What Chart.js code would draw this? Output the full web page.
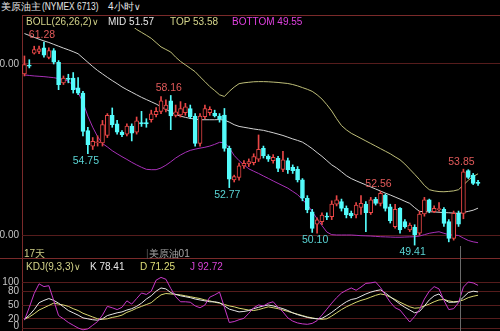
<!DOCTYPE html>
<html><head><meta charset="utf-8">
<script src="https://cdn.jsdelivr.net/npm/chart.js@4/dist/chart.umd.min.js"></script>
<style>
html,body{margin:0;padding:0;background:#000;}
body{width:500px;height:331px;overflow:hidden;position:relative;font-family:"Liberation Sans",Arial,sans-serif;font-size:10px;}
.t{position:absolute;white-space:nowrap;line-height:12px;}
canvas{position:absolute;left:0;}
#c1{top:15px;}
#c2{top:259px;}
.cur{position:absolute;left:460px;top:246px;width:1px;height:85px;background:#6a6a6a;}
.nar{display:inline-block;transform:scaleX(0.84);transform-origin:0 50%;}
</style></head>
<body>
<canvas id="c1" width="500" height="244"></canvas>
<canvas id="c2" width="500" height="72"></canvas>
<div class="cur"></div>
<div class="t" style="left:1px;top:1px;color:#e6e6e6;">美原油主</div>
<div class="t" style="left:42px;top:1px;color:#e6e6e6;"><span class="nar">(NYMEX 6713)</span></div>
<div class="t" style="left:108px;top:1px;color:#e6e6e6;">4小时<span style="font-size:9px;">∨</span></div>
<div class="t" style="left:26px;top:16px;color:#d4d48a;">BOLL(26,26,2)<span style="font-size:9px;">∨</span></div>
<div class="t" style="left:108px;top:16px;color:#e8e8e8;">MID 51.57</div>
<div class="t" style="left:170px;top:16px;color:#d4d48a;">TOP 53.58</div>
<div class="t" style="left:232px;top:16px;color:#e040e0;">BOTTOM 49.55</div>
<div class="t" style="left:24px;top:248px;color:#d4d48a;">17天</div>
<div class="t" style="left:146px;top:248px;color:#a8a8a8;"><span style="color:#555;">|</span>美原油01</div>
<div class="t" style="left:26px;top:261px;color:#d4d48a;">KDJ(9,3,3)<span style="font-size:9px;">∨</span></div>
<div class="t" style="left:90px;top:261px;color:#e8e8e8;">K 78.41</div>
<div class="t" style="left:140px;top:261px;color:#dede78;">D 71.25</div>
<div class="t" style="left:190px;top:261px;color:#d844d8;">J 92.72</div>
<script>
// ---- data ----
const open  = [59.42,59.92,60.64,60.74,60.94,60.39,60.78,60.10,58.89,59.16,59.18,58.60,58.30,56.10,55.19,55.40,55.38,55.83,57.00,56.50,
               56.02,55.90,56.37,56.02,56.57,56.57,56.74,57.04,57.23,57.35,57.84,57.00,57.02,57.15,57.40,56.96,55.36,56.92,57.15,57.12,
               56.96,57.02,55.07,53.22,53.37,54.04,54.15,54.23,54.43,55.07,54.62,54.35,54.48,53.84,54.35,53.96,53.84,53.22,52.15,51.36,
               50.64,50.78,51.10,51.07,51.81,51.95,51.56,51.26,51.17,51.62,51.81,51.30,52.09,51.85,52.34,51.65,50.49,51.56,50.78,50.29,
               50.45,50.10,51.23,52.05,51.36,51.50,51.50,50.78,49.80,51.26,51.26,53.76,53.51,53.06];
const high  = [60.47,60.25,61.04,61.05,61.28,60.95,60.90,60.20,59.30,59.40,59.50,59.20,58.40,56.30,55.70,55.80,56.70,57.10,57.43,56.70,
               56.10,56.50,56.50,56.90,57.23,56.80,57.30,57.45,58.10,57.90,58.16,57.60,57.80,57.70,57.60,57.10,57.10,57.60,57.50,57.30,
               57.10,57.40,55.20,53.50,54.20,54.35,54.45,54.75,55.85,55.20,54.70,54.70,54.60,54.90,54.50,54.10,54.00,53.30,52.30,51.50,
               51.00,51.30,51.30,52.00,52.30,52.10,51.70,51.40,51.90,52.30,51.95,52.20,52.20,52.56,52.40,51.80,51.80,51.60,50.90,50.70,
               50.60,51.40,52.20,52.10,51.70,51.90,51.60,50.90,51.40,51.40,53.85,53.82,53.60,53.20];
const low   = [59.30,59.77,60.58,60.60,60.40,60.30,60.00,58.50,58.80,58.90,58.30,58.20,55.80,54.75,55.00,55.20,55.20,55.70,56.30,55.90,
               55.75,55.80,55.50,55.90,56.35,56.30,56.60,56.90,57.10,57.20,56.16,56.90,56.90,57.00,56.80,55.20,55.20,56.80,57.00,56.90,
               56.60,54.90,52.77,53.10,53.20,53.90,54.00,54.10,54.30,54.50,54.30,54.20,53.70,53.70,53.60,53.60,53.10,52.00,51.30,50.15,
               50.10,50.60,50.90,50.90,51.70,51.40,51.00,51.00,51.00,51.20,50.19,51.20,51.75,51.70,51.40,50.70,50.40,50.10,50.40,50.20,
               49.41,50.00,51.10,51.30,51.30,51.40,50.50,49.60,49.70,50.50,50.95,53.30,52.95,52.90];
const close = [59.96,59.88,60.84,60.89,60.51,60.78,60.10,58.79,59.18,59.10,58.50,58.30,56.06,55.28,55.48,55.45,56.45,57.00,56.45,56.02,
               55.87,56.37,55.96,56.67,56.50,56.50,57.08,57.23,57.85,57.60,56.96,57.20,57.40,57.50,56.90,55.36,56.96,57.40,57.35,56.96,
               56.77,55.07,53.26,53.41,54.04,54.19,54.29,54.58,55.01,54.62,54.43,54.54,53.90,54.39,53.80,53.76,53.22,52.15,51.46,50.39,
               50.88,51.17,51.05,51.81,52.05,51.56,51.17,51.11,51.75,51.85,51.30,52.05,51.85,52.44,51.56,50.84,51.50,50.29,50.49,50.58,
               50.00,51.23,52.05,51.42,51.56,51.52,50.68,49.80,51.26,50.64,53.70,53.37,53.02,53.04];
const bollMid = [61.78,61.67,61.56,61.45,61.35,61.26,61.15,61.04,60.93,60.83,60.72,60.60,60.35,60.10,59.85,59.62,59.42,59.22,59.03,58.85,
               58.66,58.50,58.35,58.20,58.05,57.92,57.79,57.66,57.50,57.35,57.20,57.05,56.95,56.88,56.82,56.77,56.74,56.74,56.74,56.74,
               56.75,56.72,56.60,56.45,56.35,56.30,56.25,56.20,56.16,56.12,56.05,55.98,55.90,55.82,55.72,55.62,55.53,55.43,55.25,55.05,
               54.82,54.60,54.35,54.10,53.92,53.70,53.47,53.30,53.17,53.05,52.93,52.81,52.69,52.57,52.45,52.34,52.22,52.10,51.97,51.85,
               51.60,51.38,51.36,51.36,51.35,51.33,51.31,51.30,51.28,51.27,51.32,51.38,51.45,51.57];
const bollTop = [64.20,64.12,64.04,63.96,63.88,63.80,63.72,63.64,63.56,63.48,63.40,63.32,63.24,63.16,63.08,63.00,62.90,62.80,62.70,62.60,
               62.50,62.40,62.25,62.02,61.85,61.68,61.50,61.25,61.00,60.85,60.70,60.40,60.15,59.95,59.75,59.55,59.25,58.97,58.68,58.45,
               58.20,58.10,58.40,58.65,58.85,58.90,58.93,58.96,58.97,58.97,58.96,58.94,58.92,58.89,58.86,58.80,58.72,58.62,58.52,58.40,
               58.20,57.95,57.62,57.25,56.80,56.40,56.15,55.95,55.80,55.65,55.50,55.35,55.20,55.05,54.90,54.75,54.57,54.40,54.15,53.85,
               53.55,53.24,52.90,52.65,52.58,52.54,52.53,52.55,52.58,52.65,52.92,53.20,53.42,53.58];
const bollBot = [59.36,59.33,59.30,59.28,59.26,59.23,59.20,59.15,59.08,59.00,58.75,58.35,57.75,56.95,56.30,55.75,55.35,55.15,54.93,54.75,
               54.58,54.42,54.25,54.10,53.96,53.84,53.82,53.82,53.92,54.08,54.28,54.50,54.68,54.83,54.95,55.02,55.08,55.13,55.20,55.30,
               55.42,55.40,55.10,54.65,54.35,54.10,53.87,53.73,53.60,53.45,53.31,53.16,53.02,52.88,52.74,52.55,52.36,52.07,51.77,51.37,
               50.95,50.55,50.17,50.02,50.00,50.00,50.00,50.00,49.98,49.96,49.95,49.94,49.92,49.90,49.89,49.88,49.87,49.87,49.88,49.89,
               49.90,49.94,50.02,50.10,50.15,50.19,50.10,50.02,50.00,49.97,49.82,49.68,49.60,49.55];
const kdjK = [19,28,40,55,60,64,60,54,46,38,33,28,22,20,18,17,20,27,30,33,
              35,39,42,47,54,63,70,80,87,85,77,73,70,68,66,63,61,59,57,57,
              55,48,41,38,35,36,38,42,45,48,50,48,45,42,38,33,29,26,23,21,
              20,21,27,34,42,50,57,62,64,69,74,78,81,83,76,68,60,52,45,39,
              33,36,48,61,70,74,62,56,56,57,67,77,80,78.41];
const kdjD = [19,24,31,39,44,49,54,52,50,47,42,38,32,28,24,20,19,20,23,25,
              28,34,38,43,47,51,55,64,72,75,74,73,72,70,68,66,64,61,59,56,
              54,51,48,46,43,41,39,38,40,43,46,44,42,39,36,33,30,27,24,22,
              20,19,20,26,33,40,46,51,56,60,63,67,71,74,72,67,62,56,51,46,
              43,44,48,52,57,61,62,59,57,58,61,66,69,71.25];
const kdjJ = [17,45,75,96,90,92,60,27,20,12,6,0,-4,-2,6,14,28,47,44,40,
              45,59,52,64,76,73,80,104,110,106,86,68,57,57,56,48,44,50,67,72,
              78,45,12,14,18,21,32,44,50,48,54,57,45,35,22,15,11,9,8,10,
              16,28,41,54,66,76,82,87,82,89,97,98,100,88,72,56,44,39,26,13,
              25,40,63,80,90,85,60,40,42,55,89,100,98,92.72];
const priceTicks = [50, 60];
const kdjTicks = [0, 20, 50, 80, 100];
const highMarks = [4, 30, 73, 90];
const lowMarks = [13, 42, 60, 80];
const slotCount = 98; // bars + empty room at the right edge
const categories = Array.from({length: slotCount}, (_, i) => String(i + 1));

// ---- styling ----
const RED = '#e84646', CYAN = '#54fcfc', GRID = '#561c1c', FRAME = '#7a2a2a';
const FONT = '"Liberation Sans", Arial, sans-serif';
const isUp = i => close[i] >= open[i];

const frame = {
  id: 'frame',
  beforeDraw(chart, args, opts) {
    const {ctx, chartArea} = chart;
    ctx.save(); ctx.strokeStyle = FRAME; ctx.lineWidth = 1; ctx.beginPath();
    const lx = Math.round(chartArea.left) + 0.5;
    ctx.moveTo(lx, 0); ctx.lineTo(lx, chart.height);
    if (opts.top) { ctx.moveTo(lx, 0.5); ctx.lineTo(chart.width, 0.5); }
    if (opts.bottom) { ctx.moveTo(0, chart.height - 0.5); ctx.lineTo(chart.width, chart.height - 0.5); }
    ctx.stroke(); ctx.restore();
  }
};
const axisText = {
  id: 'axisText',
  afterDraw(chart, args, opts) {
    const {ctx, chartArea, scales: {y}} = chart;
    ctx.save(); ctx.font = '10px ' + FONT; ctx.fillStyle = '#c4c4c4';
    ctx.textAlign = 'right'; ctx.textBaseline = 'middle';
    y.ticks.forEach(t => {
      let py = Math.min(y.getPixelForValue(t.value), chart.height - 5);
      ctx.fillText(t.value.toFixed(opts.digits), chartArea.left - 3, py);
    });
    ctx.restore();
  }
};
const priceNotes = {
  id: 'priceNotes',
  afterDatasetsDraw(chart) {
    const {ctx, scales: {x, y}} = chart;
    ctx.save(); ctx.font = '10.5px ' + FONT; ctx.textAlign = 'center';
    ctx.fillStyle = '#e25a5a'; ctx.textBaseline = 'bottom';
    highMarks.forEach(i => ctx.fillText(high[i].toFixed(2), x.getPixelForValue(i) - 2, y.getPixelForValue(high[i]) - 2));
    ctx.fillStyle = '#5ad4d4'; ctx.textBaseline = 'top';
    lowMarks.forEach(i => ctx.fillText(low[i].toFixed(2), x.getPixelForValue(i) - 2, y.getPixelForValue(low[i]) + 2));
    ctx.restore();
  }
};

const bodies = open.map((o, i) => {
  const a = Math.min(o, close[i]), b = Math.max(o, close[i]);
  if (b - a < 0.06) { const m = (a + b) / 2; return [m - 0.03, m + 0.03]; }
  return [a, b];
});
const wicks = low.map((l, i) => [l, high[i]]);

const xCommon = {type: 'category', labels: categories, offset: true, display: false, grid: {display: false}};
const yCommon = (min, max, ticks) => ({
  min, max, position: 'left',
  afterBuildTicks: s => { s.ticks = ticks.map(v => ({value: v})); },
  afterFit: s => { s.width = 22; },
  ticks: {display: false},
  grid: {color: GRID, lineWidth: 1, drawTicks: false},
  border: {display: false}
});

const lineDs = (data, color, order) => ({
  type: 'line', data, borderColor: color, borderWidth: 1, pointRadius: 0, tension: 0, order, fill: false
});

new Chart(document.getElementById('c1'), {
  type: 'bar',
  data: {
    labels: categories,
    datasets: [
      lineDs(bollTop, '#bebe78', 3),
      lineDs(bollMid, '#d2d2d2', 3),
      lineDs(bollBot, '#a830b8', 3),
      {type: 'bar', data: wicks, grouped: false, barThickness: 1, borderWidth: 0, order: 2,
       backgroundColor: c => isUp(c.dataIndex) ? RED : CYAN},
      {type: 'bar', data: bodies, grouped: false, barThickness: 4, borderWidth: 1, borderSkipped: false, order: 1,
       backgroundColor: c => isUp(c.dataIndex) ? '#000' : CYAN,
       borderColor: c => isUp(c.dataIndex) ? RED : CYAN}
    ]
  },
  options: {
    responsive: false, animation: false, events: [],
    layout: {padding: {top: 13, bottom: 1, left: 0, right: 0}},
    scales: {x: xCommon, y: yCommon(48.655, 62.105, priceTicks)},
    plugins: {legend: {display: false}, tooltip: {enabled: false},
              frame: {top: true, bottom: true}, axisText: {digits: 2}}
  },
  plugins: [frame, axisText, priceNotes]
});

new Chart(document.getElementById('c2'), {
  type: 'line',
  data: {
    labels: categories,
    datasets: [
      lineDs(kdjD, '#d8d870', 2),
      lineDs(kdjK, '#e6e6e6', 1),
      lineDs(kdjJ, '#c838c8', 0)
    ]
  },
  options: {
    responsive: false, animation: false, events: [],
    layout: {padding: {top: 13, bottom: 0, left: 0, right: 0}},
    scales: {x: xCommon, y: yCommon(-6.52, 121.74, kdjTicks)},
    plugins: {legend: {display: false}, tooltip: {enabled: false},
              frame: {top: false, bottom: false}, axisText: {digits: 0}}
  },
  plugins: [frame, axisText]
});
</script>
</body></html>
